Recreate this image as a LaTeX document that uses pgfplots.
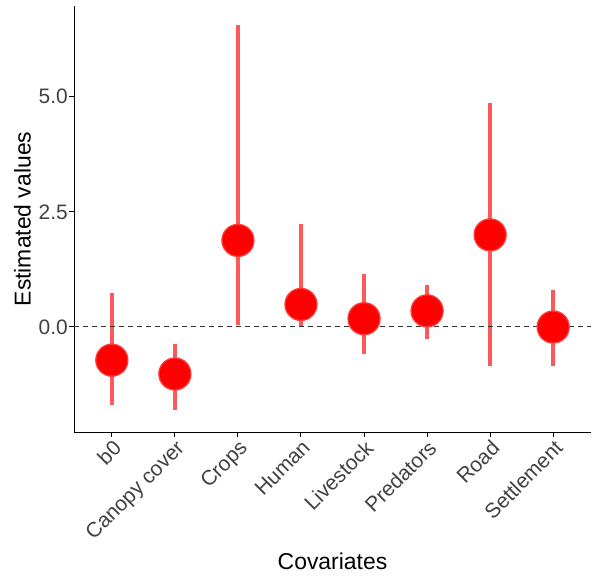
\documentclass[border=0pt]{standalone}
\usepackage{pgfplots}
\pgfplotsset{compat=1.18}
\usepackage{pgfplotstable}
\usepackage{fontspec}
\setmainfont{Liberation Sans}

% Posterior estimates per covariate: point estimate with lower/upper interval
\pgfplotstableread{
x est lo hi
0 -0.72 -1.69 0.74
1 -1.02 -1.81 -0.36
2 1.88 0.05 6.56
3 0.49 0.02 2.23
4 0.18 -0.58 1.16
5 0.35 -0.27 0.92
6 2.00 -0.85 4.86
7 0.00 -0.85 0.81
}\estimates

\definecolor{ptred}{RGB}{255,0,0}
\definecolor{barred}{RGB}{255,88,88}
\definecolor{ticktext}{gray}{0.25}

\begin{document}
\begin{tikzpicture}
\begin{axis}[
  scale only axis,
  width=517bp, height=426bp,
  xmin=-0.6, xmax=7.6,
  ymin=-2.28, ymax=6.97,
  axis x line*=bottom, axis y line*=left,
  axis line style={black, line width=1bp},
  tick align=outside,
  major tick length=4.5bp,
  tick style={black, line width=1bp},
  xtick={0,1,2,3,4,5,6,7},
  xticklabels={b0,Canopy cover,Crops,Human,Livestock,Predators,Road,Settlement},
  ytick={0,2.5,5},
  /pgf/number format/assume math mode=true,
  yticklabel style={/pgf/number format/fixed, /pgf/number format/fixed zerofill,
    /pgf/number format/precision=1, inner sep=1.5bp},
  ticklabel style={font=\fontsize{21}{23}\selectfont, text=ticktext},
  xticklabel style={rotate=45, anchor=north east, inner sep=1.5bp},
  xlabel={Covariates},
  ylabel={Estimated values},
  every axis x label/.style={at={(axis description cs:0.5,-0.3028)}, anchor=center,
    font=\fontsize{23}{25}\selectfont, text=black},
  every axis y label/.style={at={(axis description cs:-0.0996,0.5)}, anchor=center,
    rotate=90, font=\fontsize{23}{25}\selectfont, text=black},
  clip=false,
]
  % interval bars
  \addplot[draw=none, mark=none,
    error bars/.cd, y dir=both, y explicit, error mark=none,
    error bar style={line width=4.5bp, barred}]
    table[x=x, y=est,
      y error plus expr=\thisrow{hi}-\thisrow{est},
      y error minus expr=\thisrow{est}-\thisrow{lo}] {\estimates};
  % point estimates
  \addplot[only marks, mark=*, mark size=16bp,
    mark options={fill=ptred, draw=red!78, line width=1.3bp}]
    table[x=x, y=est] {\estimates};
  % zero reference line
  \addplot[black!80, line width=1bp, dash pattern=on 4.5bp off 4.5bp]
    coordinates {(-0.6,0) (7.6,0)};
\end{axis}
\useasboundingbox (-74bp,-145bp) rectangle (526bp,432bp);
\end{tikzpicture}
\end{document}
